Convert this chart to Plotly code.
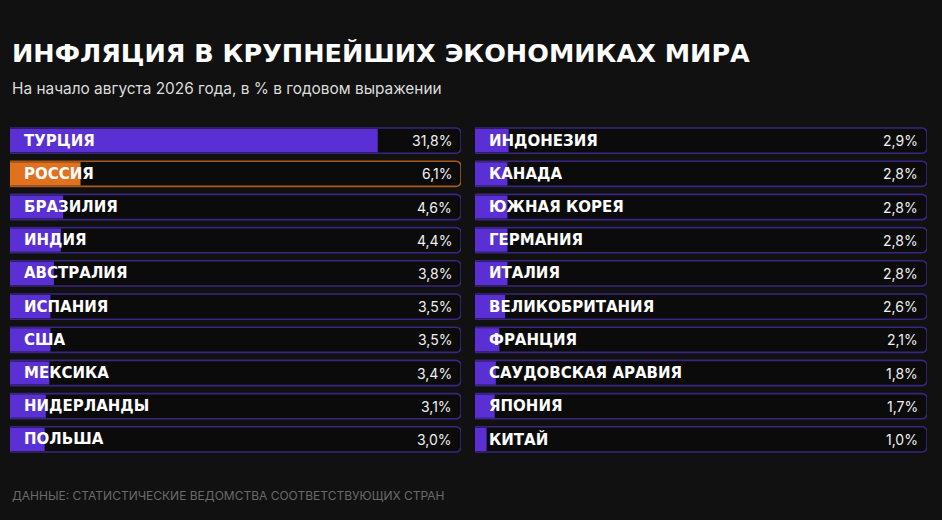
import plotly.graph_objects as go
from plotly.subplots import make_subplots

left_countries = ["ТУРЦИЯ", "РОССИЯ", "БРАЗИЛИЯ", "ИНДИЯ", "АВСТРАЛИЯ",
                  "ИСПАНИЯ", "США", "МЕКСИКА", "НИДЕРЛАНДЫ", "ПОЛЬША"]
left_values = [31.8, 6.1, 4.6, 4.4, 3.8, 3.5, 3.5, 3.4, 3.1, 3.0]
right_countries = ["ИНДОНЕЗИЯ", "КАНАДА", "ЮЖНАЯ КОРЕЯ", "ГЕРМАНИЯ", "ИТАЛИЯ",
                   "ВЕЛИКОБРИТАНИЯ", "ФРАНЦИЯ", "САУДОВСКАЯ АРАВИЯ", "ЯПОНИЯ", "КИТАЙ"]
right_values = [2.9, 2.8, 2.8, 2.8, 2.8, 2.6, 2.1, 1.8, 1.7, 1.0]
highlight = "РОССИЯ"
scale_max = 39

TITLE = "ИНФЛЯЦИЯ В КРУПНЕЙШИХ ЭКОНОМИКАХ МИРА"
SUBTITLE = "На начало августа 2026 года, в % в годовом выражении"
SOURCE = "ДАННЫЕ: СТАТИСТИЧЕСКИЕ ВЕДОМСТВА СООТВЕТСТВУЮЩИХ СТРАН"

BG = "#111111"
TRACK = "#0b0b0b"
PURPLE = "#5a2fd3"
PURPLE_LINE = "#3a2680"
ORANGE = "#e0721f"
ORANGE_LINE = "#a85a1c"

fig = make_subplots(rows=1, cols=2, horizontal_spacing=0.0)

W, H = 942, 520
top_px, step = 124, 33.2
bottom_px = top_px + step * 10
ydom = [(H - bottom_px) / H, (H - top_px) / H]

for col, (names, vals) in enumerate([(left_countries, left_values),
                                     (right_countries, right_values)], start=1):
    idx = list(range(len(names)))
    is_hl = [n == highlight for n in names]
    fig.add_trace(go.Bar(
        x=[scale_max] * len(names), y=idx, orientation="h", width=0.76,
        marker=dict(color=TRACK, cornerradius=5,
                    line=dict(color=[ORANGE_LINE if h else PURPLE_LINE for h in is_hl], width=1.6)),
        hoverinfo="skip", showlegend=False), row=1, col=col)
    fig.add_trace(go.Bar(
        x=vals, y=idx, orientation="h", width=0.70,
        marker=dict(color=[ORANGE if h else PURPLE for h in is_hl], cornerradius=4,
                    line=dict(width=0)),
        hovertemplate="%{x}%<extra></extra>", showlegend=False), row=1, col=col)
    xa = "x" if col == 1 else "x2"
    ya = "y" if col == 1 else "y2"
    for i, (n, v) in enumerate(zip(names, vals)):
        fig.add_annotation(x=0, y=i, xref=f"{xa} domain", yref=ya, text=n,
                           xanchor="left", xshift=12, showarrow=False,
                           font=dict(family="DejaVu Sans", size=15, color="white", weight="bold"))
        fig.add_annotation(x=1, y=i, xref=f"{xa} domain", yref=ya,
                           text=f"{v:.1f}%".replace(".", ","),
                           xanchor="right", xshift=-7, showarrow=False,
                           font=dict(family="Inter", size=14, color="#f0f0f0"))

fig.update_xaxes(range=[0, scale_max], visible=False, fixedrange=True)
fig.update_yaxes(range=[9.5, -0.5], visible=False, fixedrange=True)
fig.update_layout(
    xaxis=dict(domain=[10 / W, 461 / W]),
    xaxis2=dict(domain=[475 / W, 927 / W]),
    yaxis=dict(domain=ydom), yaxis2=dict(domain=ydom),
    barmode="overlay",
    width=W, height=H, margin=dict(l=0, r=0, t=0, b=0),
    paper_bgcolor=BG, plot_bgcolor=BG,
)
fig.add_annotation(x=10 / W, y=(H - 53) / H, xref="paper", yref="paper", text=TITLE,
                   xanchor="left", yanchor="middle", showarrow=False,
                   font=dict(family="DejaVu Sans", size=25.5, color="white", weight="bold"))
fig.add_annotation(x=10 / W, y=(H - 89) / H, xref="paper", yref="paper", text=SUBTITLE,
                   xanchor="left", yanchor="middle", showarrow=False,
                   font=dict(family="Inter", size=15.4, color="#dddddd"))
fig.add_annotation(x=10 / W, y=(H - 495) / H, xref="paper", yref="paper", text=SOURCE,
                   xanchor="left", yanchor="middle", showarrow=False,
                   font=dict(family="Inter", size=12, color="#6a6a6a"))

fig.write_html("out.html", config={"displayModeBar": False},
               post_script="document.body.style.margin='0';document.body.style.background='#111111';")
